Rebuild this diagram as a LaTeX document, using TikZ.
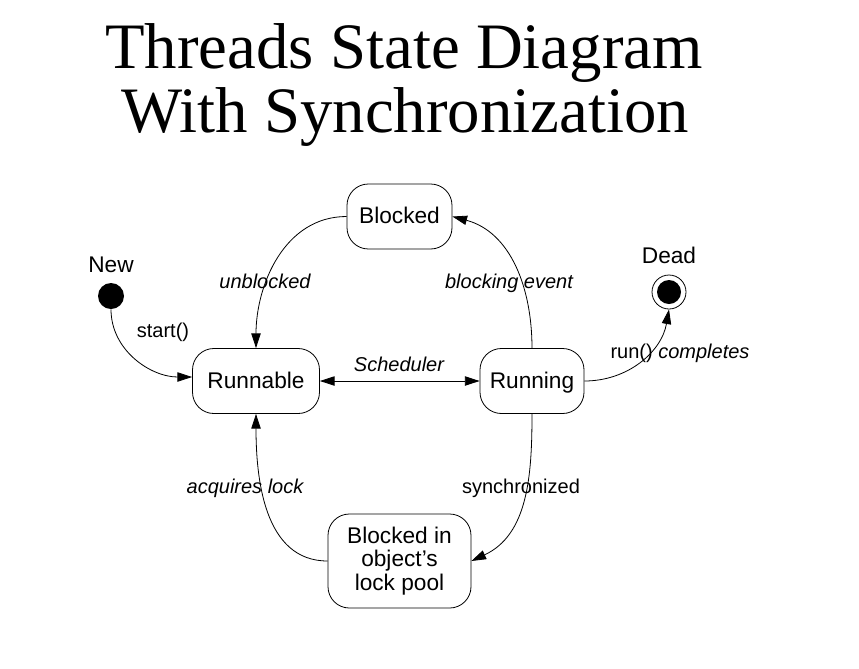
\documentclass[tikz,border=0pt]{standalone}
\usepackage{fontspec}
\setmainfont{Liberation Sans}
\newfontfamily\titlefont{Liberation Serif}
\usetikzlibrary{arrows.meta}
\begin{document}
\begin{tikzpicture}[x=0.75pt,y=-0.75pt,
  statebox/.style={draw,line width=0.6pt,rounded corners=16pt,align=center,
    font=\fontsize{17}{17.6}\selectfont,inner sep=0pt,minimum height=48.75pt},
  onelinetext/.style={text height=12.2pt,text depth=1.5pt},
  edgelbl/.style={font=\fontsize{15}{17}\selectfont\itshape,inner sep=0pt,anchor=base},
  uplbl/.style={font=\fontsize{15}{17}\selectfont,inner sep=0pt,anchor=base},
  biglbl/.style={font=\fontsize{17}{19}\selectfont,inner sep=0pt,anchor=base},
  conn/.style={line width=0.6pt,-{Triangle[length=11pt,width=7pt]}},
  titlestyle/.style={font=\titlefont\fontsize{48.6}{50}\selectfont,inner sep=0pt,anchor=base}]
\useasboundingbox (0,0) rectangle (859,668);
% title
\node[titlestyle] (t1) at (404,68) {Threads State Diagram};
\node[titlestyle] (t2) at (405,132) {With Synchronization};
% states
\node[statebox,onelinetext,minimum width=78.75pt] (blocked) at (399.5,216.5) {Blocked};
\node[statebox,onelinetext,minimum width=95.25pt] (runnable) at (256,381) {Runnable};
\node[statebox,onelinetext,minimum width=78pt] (running) at (532,381) {Running};
\node[statebox,minimum width=107.25pt,minimum height=70.5pt] (pool) at (399.5,561)
  {Blocked in\\object's\\lock pool};
% initial / final
\node[circle,fill=black,minimum size=19.5pt,inner sep=0pt] (new) at (111,296) {};
\node[biglbl] (newlbl) at (111,272) {New};
\node[circle,draw,line width=0.6pt,minimum size=25.5pt,inner sep=0pt] (dead) at (669,292) {};
\node[circle,fill=black,minimum size=18pt,inner sep=0pt] (deadin) at (669,292) {};
\node[biglbl] (deadlbl) at (669,263) {Dead};
% connectors
\draw[conn] (new.south) to[out=-90,in=180] (runnable.west |- 0,377);
\draw[conn] (blocked.west) to[out=180,in=90] (runnable.north);
\draw[conn] (running.north) to[out=90,in=-15] (blocked.east);
\draw[line width=0.6pt,{Triangle[length=11pt,width=7pt]}-{Triangle[length=11pt,width=7pt]}]
  (runnable.east) -- (running.west);
\draw[conn] (running.east) to[out=0,in=-100] (dead.south);
\draw[conn] (running.south) to[out=-90,in=25] (pool.east);
\draw[conn] (pool.west) to[out=180,in=-90] (runnable.south);
% labels
\node[uplbl] (lstart) at (163,337) {start()};
\node[edgelbl] (lunbl) at (265,288) {unblocked};
\node[edgelbl] (lblev) at (509,288) {blocking event};
\node[edgelbl] (lsched) at (399,371) {Scheduler};
\node[uplbl] (lrun) at (680,358) {run() \textit{completes}};
\node[uplbl] (lsync) at (521,493) {synchronized};
\node[edgelbl] (lacq) at (245,493) {acquires lock};
\end{tikzpicture}
\end{document}
